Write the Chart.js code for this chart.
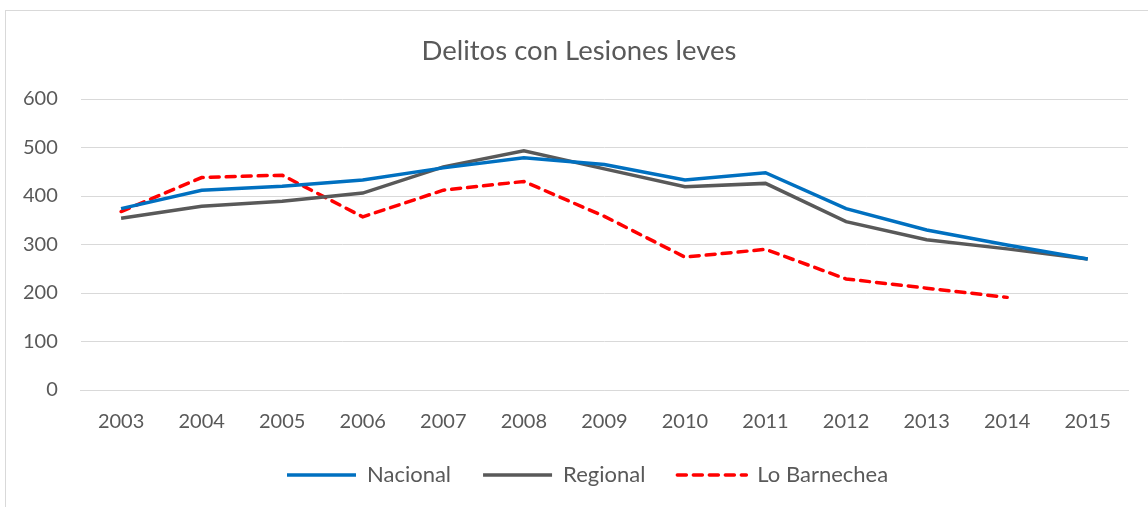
<!DOCTYPE html>
<html>
<head>
<meta charset="utf-8">
<script src="https://cdn.jsdelivr.net/npm/chart.js@4"></script>
<style>
  body { margin: 0; background: #fff; }
  #frame { position: absolute; left: 5px; top: 10px; width: 1160px; height: 520px; border: 1px solid #d9d9d9; }
  #chart { position: absolute; left: 0; top: 0; }
</style>
</head>
<body>
<div id="frame"></div>
<canvas id="chart" width="1148" height="507"></canvas>
<script>
const years = ['2003','2004','2005','2006','2007','2008','2009','2010','2011','2012','2013','2014','2015'];
const nacional = [374, 412, 420, 433, 458, 479, 465, 433, 448, 374, 330, 299, 270];
const regional = [354, 379, 389, 406, 460, 493, 456, 419, 426, 347, 310, 291, 270];
const barnechea = [368, 438, 443, 357, 412, 430, 358, 274, 290, 229, 210, 191, null];
const yTicks = [0, 100, 200, 300, 400, 500, 600];

const textColor = '#595959';
const font = 'Lato';

// Excel centres title and legend differently from the plot area
const boxShift = {
  id: 'boxShift',
  afterLayout(chart) {
    chart.legend.left += 255;
    chart.titleBlock.left += 15;
    chart.titleBlock.right += 15;
  }
};

new Chart(document.getElementById('chart'), {
  type: 'line',
  data: {
    labels: years,
    datasets: [
      {label: 'Nacional', data: nacional, borderColor: '#0070C0', backgroundColor: '#0070C0', borderWidth: 3.5},
      {label: 'Regional', data: regional, borderColor: '#595959', backgroundColor: '#595959', borderWidth: 3.5},
      {label: 'Lo Barnechea', data: barnechea, borderColor: '#FF0000', backgroundColor: '#FF0000', borderWidth: 3.5,
       borderDash: [9, 7], borderCapStyle: 'round'}
    ]
  },
  options: {
    responsive: false,
    animation: false,
    layout: {padding: {left: 0, right: 20, bottom: 11}},
    elements: {point: {radius: 0}, line: {tension: 0}},
    scales: {
      x: {
        offset: true,
        grid: {display: false, drawTicks: false},
        border: {color: '#d9d9d9'},
        ticks: {color: textColor, font: {family: font, size: 20}, padding: 20},
        afterFit: s => { s.height -= 22; }
      },
      y: {
        min: 0, max: 600,
        afterBuildTicks: s => { s.ticks = yTicks.map(v => ({value: v})); },
        grid: {color: '#d9d9d9', drawTicks: false},
        border: {display: false},
        ticks: {color: textColor, font: {family: font, size: 20}, padding: 23}
      }
    },
    plugins: {
      title: {
        display: true,
        text: 'Delitos con Lesiones leves',
        color: textColor,
        font: {family: font, size: 27.5, weight: 'normal'},
        padding: {top: 35, bottom: 31}
      },
      legend: {
        position: 'bottom',
        align: 'start',
        labels: {
          usePointStyle: true, pointStyle: 'line', pointStyleWidth: 69,
          color: textColor, font: {family: font, size: 22}, padding: 32,
          generateLabels(chart) {
            const items = Chart.defaults.plugins.legend.labels.generateLabels(chart);
            items.forEach(it => {
              const ds = chart.data.datasets[it.datasetIndex];
              it.lineDash = ds.borderDash || [];
              it.lineWidth = ds.borderWidth;
              it.lineCap = ds.borderCapStyle || 'butt';
              it.strokeStyle = ds.borderColor;
            });
            return items;
          }
        }
      },
      tooltip: {enabled: false}
    }
  },
  plugins: [boxShift]
});
</script>
</body>
</html>
